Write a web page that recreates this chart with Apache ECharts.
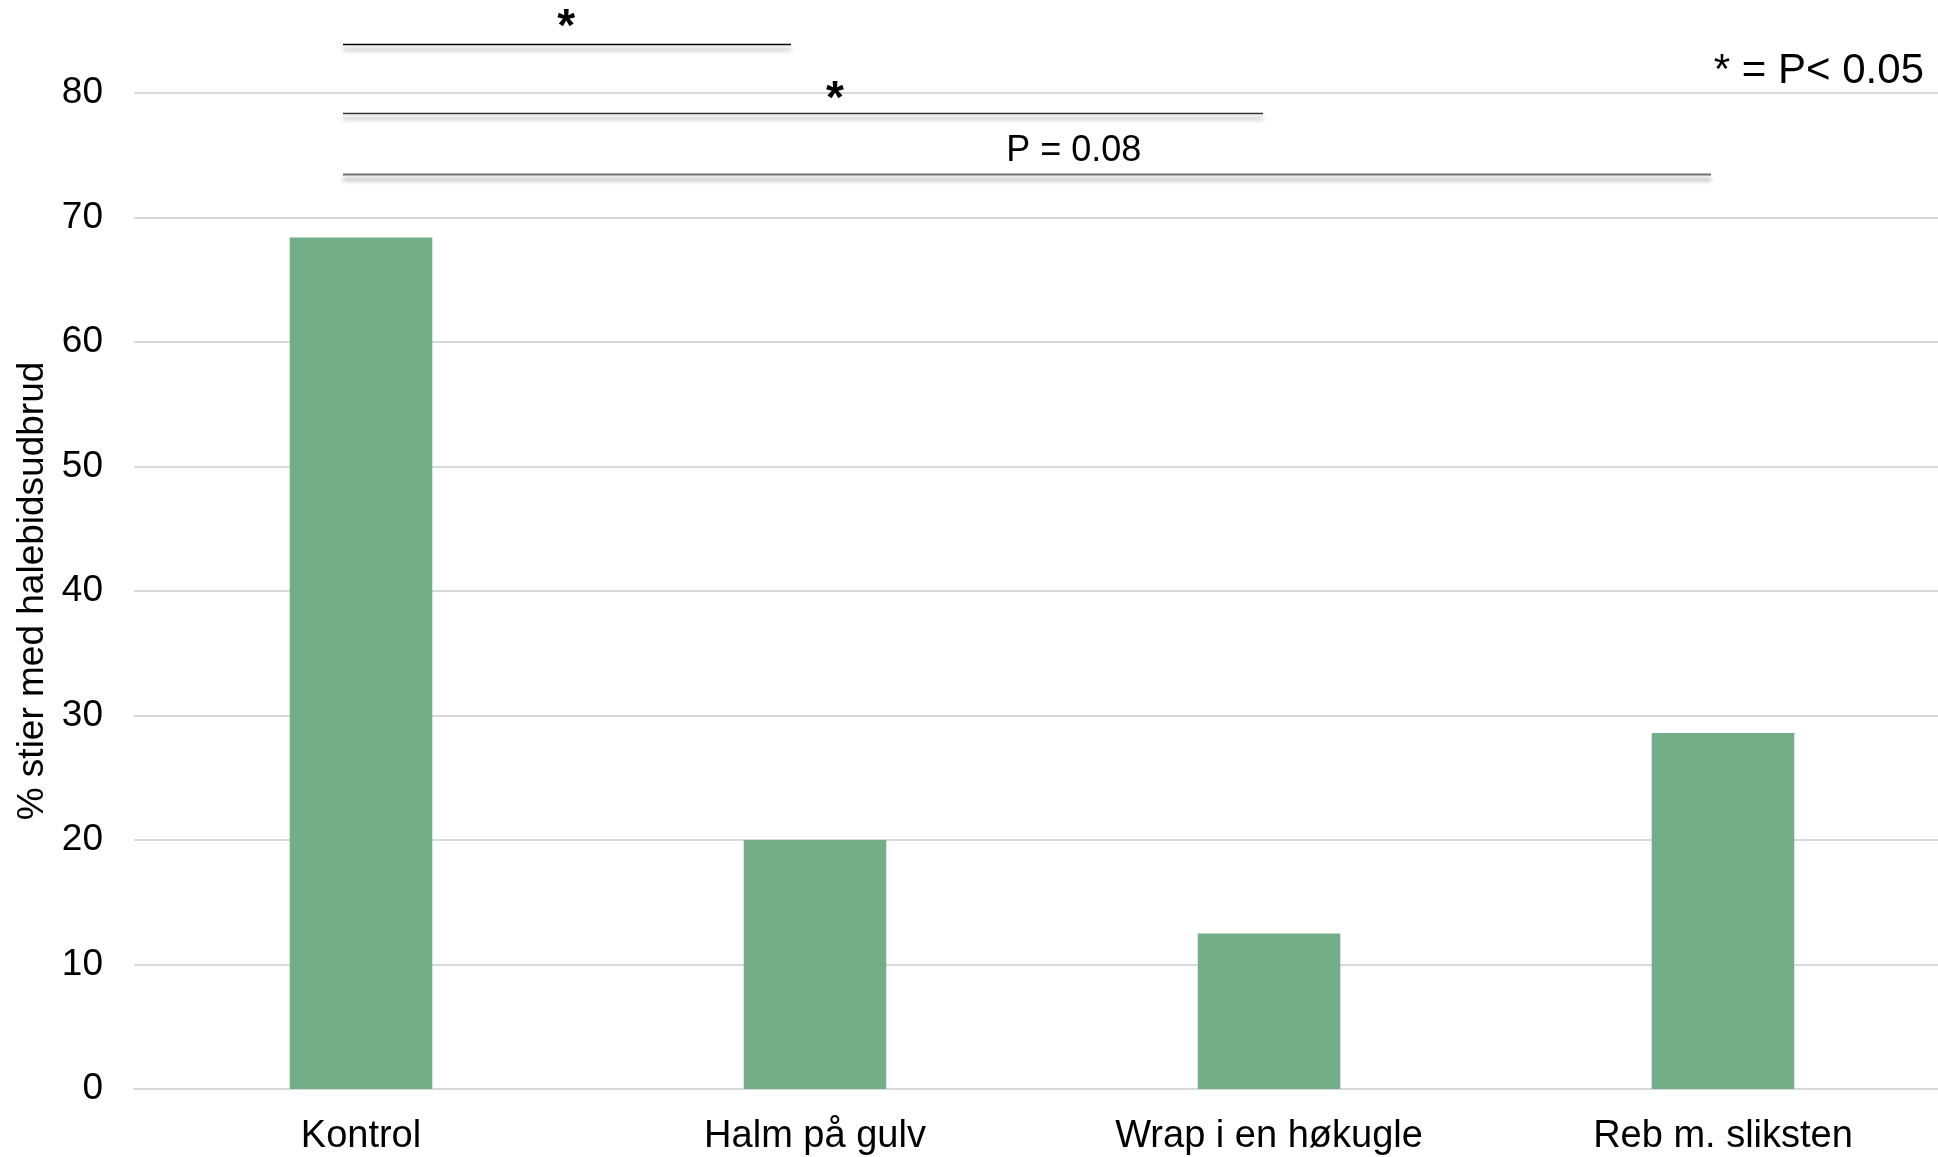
<!DOCTYPE html>
<html>
<head>
<meta charset="utf-8">
<script src="https://cdn.jsdelivr.net/npm/echarts@6/dist/echarts.min.js"></script>
<style>
html,body{margin:0;padding:0;background:#fff;overflow:hidden;width:1938px;height:1157px;}
#chart{width:1950px;height:1157px;}
</style>
</head>
<body>
<div id="chart"></div>
<script>
// ---- data ----
var categories = ['Kontrol', 'Halm på gulv', 'Wrap i en høkugle', 'Reb m. sliksten'];
var values = [68.4, 20.0, 12.5, 28.6];
var yTicks = [0, 10, 20, 30, 40, 50, 60, 70, 80];
var yAxisTitle = '% stier med halebidsudbrud';

// significance brackets (from category index to category index at a y level)
var bracketFrom = [0, 0, 0];
var bracketTo = [1, 2, 3];
var bracketLevel = [83.9, 78.4, 73.5];
var bracketLabels = ['*', '*', 'P = 0.08'];
var bracketLabelPos = [0.452, 1.044, 1.57];   // category-index position of label
var bracketLabelLevel = [85.2, 79.4, 75.3];
var legendNote = '* = P< 0.05';

var FONT = 'Liberation Sans, Arial, Helvetica, sans-serif';
var chart = echarts.init(document.getElementById('chart'), null, {renderer: 'canvas'});

chart.setOption({
  animation: false,
  backgroundColor: '#ffffff',
  grid: {left: 134, right: 0, top: 93, bottom: 68, containLabel: false},
  xAxis: {
    type: 'category',
    data: categories,
    axisTick: {show: false},
    axisLine: {show: true, lineStyle: {color: '#d9d9d9', width: 2}},
    axisLabel: {color: '#000', fontSize: 38, fontFamily: FONT, margin: 29, interval: 0}
  },
  yAxis: {
    type: 'value',
    min: yTicks[0],
    max: yTicks[yTicks.length - 1],
    interval: 10,
    name: yAxisTitle,
    nameLocation: 'middle',
    nameGap: 82,
    nameRotate: 90,
    nameTextStyle: {color: '#000', fontSize: 37, fontFamily: FONT},
    axisLine: {show: false},
    axisTick: {show: false},
    axisLabel: {color: '#000', fontSize: 37, fontFamily: FONT, margin: 31},
    splitLine: {show: true, lineStyle: {color: '#d9d9d9', width: 2}}
  },
  series: [{
    type: 'bar',
    data: values,
    barWidth: '31.4%',
    itemStyle: {color: '#73ae89'},
    silent: true
  }]
});

function drawAnnotations() {
  var els = [];
  function catX(pos) {
    var i0 = Math.floor(pos);
    var frac = pos - i0;
    var x0 = chart.convertToPixel({xAxisIndex: 0}, i0);
    if (frac === 0) return x0;
    var x1 = chart.convertToPixel({xAxisIndex: 0}, i0 + 1);
    return x0 + (x1 - x0) * frac;
  }
  function yPx(v) { return chart.convertToPixel({yAxisIndex: 0}, v); }
  var strokes = ['#000000', '#333333', '#6f6f6f'];
  var startOff = -18, endOff = [-24, -6, -12];
  for (var i = 0; i < bracketFrom.length; i++) {
    var x1 = catX(bracketFrom[i]) + startOff;
    var x2 = catX(bracketTo[i]) + endOff[i];
    var y = Math.round(yPx(bracketLevel[i])) + 0.5;
    els.push({
      type: 'line',
      shape: {x1: x1, y1: y, x2: x2, y2: y},
      style: {stroke: strokes[i], lineWidth: i === 2 ? 2 : 1.5,
        shadowColor: 'rgba(0,0,0,0.45)', shadowBlur: 4, shadowOffsetY: 5},
      silent: true
    });
    var isStar = bracketLabels[i] === '*';
    els.push({
      type: 'text',
      x: catX(bracketLabelPos[i]),
      y: yPx(bracketLabelLevel[i]),
      style: {
        text: bracketLabels[i],
        fill: '#000',
        font: (isStar ? 'bold 46px ' : '36px ') + FONT,
        textAlign: 'center',
        textVerticalAlign: 'middle'
      },
      silent: true
    });
  }
  els.push({
    type: 'text',
    right: 26,
    top: 50,
    style: {text: legendNote, fill: '#000', font: '42px ' + FONT},
    silent: true
  });
  chart.setOption({graphic: {elements: els}});
}
drawAnnotations();
</script>
</body>
</html>
